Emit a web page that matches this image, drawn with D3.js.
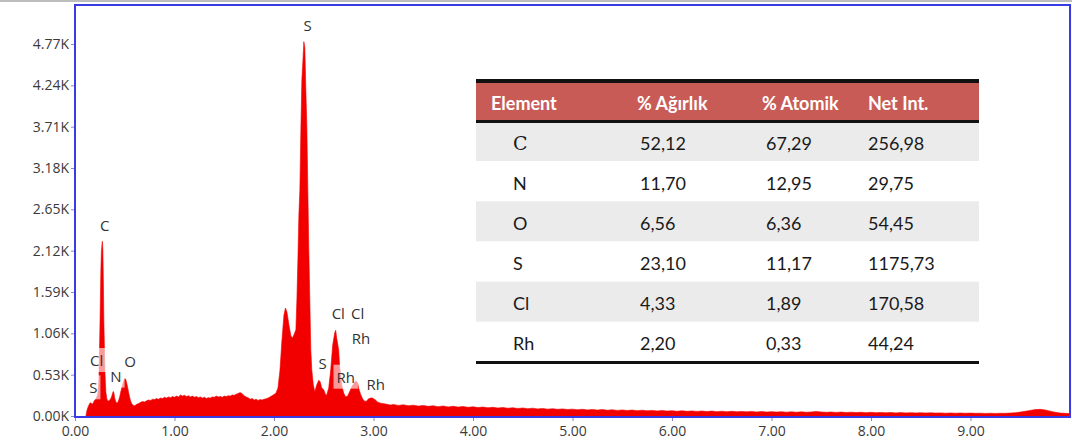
<!DOCTYPE html>
<html>
<head>
<meta charset="utf-8">
<script src="https://cdn.jsdelivr.net/npm/d3@7"></script>
<style>
  body { margin: 0; background: #fff; }
  svg { display: block; }
</style>
</head>
<body>
<svg id="chart" width="1072" height="448"></svg>
<script>
// EDS spectrum: energy (keV) and counts
const spectrumKeV = [
  0.11,0.115,0.12,0.13,0.14,0.15,0.16,0.17,0.18,0.19,0.20,0.21,0.22,0.23,0.24,0.25,0.26,0.265,0.27,0.275,
  0.28,0.285,0.29,0.30,0.31,0.32,0.33,0.34,0.35,0.36,0.37,0.38,0.385,0.39,0.40,0.41,0.42,0.43,0.44,0.45,
  0.46,0.47,0.48,0.49,0.50,0.51,0.52,0.53,0.54,0.55,0.56,0.57,0.58,0.59,0.60,
  0.62,0.64,0.66,0.68,0.70,0.72,0.74,0.76,0.78,0.80,0.82,0.84,0.86,0.88,0.90,0.92,0.94,0.96,0.98,1.00,
  1.02,1.04,1.06,1.08,1.10,1.12,1.14,1.16,1.18,1.20,1.22,1.24,1.26,1.28,1.30,1.32,1.34,1.36,1.38,1.40,
  1.42,1.44,1.46,1.48,1.50,1.52,1.54,1.56,1.58,1.60,1.62,1.64,1.66,1.68,1.70,1.72,1.74,1.76,1.78,1.80,
  1.82,1.84,1.86,1.88,1.90,1.92,1.94,1.96,1.98,2.00,
  2.02,2.04,2.06,2.08,2.10,2.115,2.13,2.15,2.17,2.185,2.20,2.22,2.23,2.24,2.25,2.26,2.27,2.28,2.29,2.30,
  2.31,2.32,2.33,2.34,2.35,2.36,2.37,2.38,2.395,2.41,2.43,2.45,2.465,2.48,2.50,2.52,2.53,2.55,2.57,2.59,
  2.61,2.62,2.63,2.65,2.66,2.68,2.70,2.72,2.74,2.76,2.78,2.80,2.82,2.84,2.85,2.87,2.89,2.91,2.93,2.95,
  2.97,2.99,3.02,3.04,3.07,3.12,3.17,
  3.20,3.25,3.30,3.35,3.40,3.45,3.50,3.55,3.60,3.65,3.70,3.75,3.80,3.85,3.90,3.95,
  4.00,4.05,4.10,4.15,4.20,4.25,4.30,4.35,4.40,4.45,4.50,4.55,4.60,4.65,4.70,4.75,4.80,4.85,4.90,4.95,
  5.00,5.05,5.10,5.15,5.20,5.25,5.30,5.35,5.40,5.45,5.50,5.55,5.60,5.65,5.70,5.75,5.80,5.85,5.90,5.95,
  6.00,6.05,6.10,6.15,6.20,6.25,6.30,6.35,6.40,6.45,6.50,6.55,6.60,6.65,6.70,6.75,6.80,6.85,6.90,6.95,
  7.00,7.05,7.10,7.15,7.20,7.25,7.30,7.35,7.40,7.45,7.50,7.55,7.60,7.65,7.70,7.75,7.80,7.85,7.90,7.95,
  8.00,8.05,8.10,8.15,8.20,8.25,8.30,8.35,8.40,8.45,8.50,8.55,8.60,8.65,8.70,8.75,8.80,8.85,8.90,8.95,
  9.00,9.05,9.10,9.15,9.20,9.25,9.30,9.35,9.40,9.45,9.50,9.55,9.60,9.65,9.70,9.75,9.80,9.85,9.90,9.95,10.00
];
const spectrumCounts = [
  0,40,70,110,140,165,170,150,160,185,205,220,245,290,460,1100,1870,2100,2190,2240,
  2130,1750,1230,590,310,220,190,195,205,225,255,300,315,300,225,185,165,175,205,250,
  310,360,410,450,480,470,420,360,295,235,190,160,140,135,130,
  150,160,175,185,180,195,205,200,215,210,225,215,230,225,240,230,245,235,250,240,
  255,245,270,255,265,250,260,245,255,240,250,235,245,230,240,225,235,230,245,240,
  255,245,250,240,255,250,260,255,270,265,280,290,300,285,260,245,235,215,225,205,
  215,200,210,205,215,220,230,245,260,275,
  295,360,590,975,1295,1385,1335,1170,1025,1000,1040,1105,1490,2000,2580,2900,3670,4310,4540,4800,
  4720,4180,3730,2900,2130,1490,845,590,400,310,400,460,435,360,335,270,270,360,590,910,
  1065,1100,1000,845,630,400,295,245,255,310,370,410,450,425,360,280,220,190,190,220,
  230,230,205,180,165,155,140,
  148,136,144,131,139,127,135,124,131,120,128,117,125,114,122,111,
  118,108,115,105,112,102,109,99,106,96,103,94,100,91,97,88,94,85,91,83,
  88,80,86,78,84,76,82,74,80,72,78,70,76,68,74,66,72,65,70,63,
  68,61,67,60,65,59,64,57,63,56,61,55,60,54,59,53,58,52,57,51,
  56,50,55,49,54,48,53,48,52,58,51,47,51,46,50,45,49,44,48,43,
  47,42,46,41,45,40,44,40,43,39,42,38,41,37,40,36,39,36,38,35,
  37,34,36,33,35,33,35,34,38,42,50,60,72,82,85,78,62,48,38,34,32
];

// Axis ticks
const yTickValues = [0, 530, 1060, 1590, 2120, 2650, 3180, 3710, 4240, 4770];
const xTickValues = [0, 1, 2, 3, 4, 5, 6, 7, 8, 9];

// Peak identification labels (anchored at energy / counts)
const peakText   = ["S", "C", "Cl", "S", "N", "O", "Cl", "Cl", "Rh", "S", "Rh", "Rh"];
const peakKeV    = [2.339, 0.30, 0.218, 0.184, 0.412, 0.553, 2.646, 2.841, 2.874, 2.489, 2.721, 3.022];
const peakCounts = [5017, 2450, 718, 368, 518, 710, 1318, 1321, 1005, 684, 504, 411];

// Quantification table
const tableHeaders = ["Element", "% Ağırlık", "% Atomik", "Net Int."];
const elements   = ["C", "N", "O", "S", "Cl", "Rh"];
const weightPct  = [52.12, 11.70, 6.56, 23.10, 4.33, 2.20];
const atomicPct  = [67.29, 12.95, 6.36, 11.17, 1.89, 0.33];
const netIntensity = [256.98, 29.75, 54.45, 1175.73, 170.58, 44.24];

const svg = d3.select("#chart");
const W = 1072, H = 448;
const plot = { left: 75, top: 5, right: 1070, bottom: 417 };

// thin grey strip at the very top
svg.append("rect").attr("x", 0).attr("y", 0).attr("width", W).attr("height", 2).attr("fill", "#bdbdbd");

const x = d3.scaleLinear().domain([0, 10]).range([plot.left, plot.right]);
const y = d3.scaleLinear().domain([0, 5270]).range([416, plot.top]);

const spectrum = spectrumKeV.map((e, i) => ({ e, c: spectrumCounts[i] }));

const area = d3.area()
  .x(d => x(d.e))
  .y0(y(0))
  .y1(d => y(d.c));

svg.append("path")
  .datum(spectrum)
  .attr("d", area)
  .attr("fill", "#f20000")
  .attr("stroke", "#f20000")
  .attr("stroke-width", 0.6);

// Frame
const frameColor = "#3b3be6";
svg.append("rect")
  .attr("x", plot.left).attr("y", plot.top)
  .attr("width", plot.right - plot.left).attr("height", plot.bottom - plot.top)
  .attr("fill", "none").attr("stroke", frameColor).attr("stroke-width", 2);

const fmtK = v => (v / 1000).toFixed(2) + "K";

const yAxis = svg.append("g")
  .attr("transform", `translate(${plot.left - 1},0)`)
  .call(d3.axisLeft(y).tickValues(yTickValues).tickFormat(fmtK).tickSize(3).tickPadding(2));
const xAxis = svg.append("g")
  .attr("transform", `translate(0,${plot.bottom + 1})`)
  .call(d3.axisBottom(x).tickValues(xTickValues).tickFormat(d3.format(".2f")).tickSize(3).tickPadding(5));

[yAxis, xAxis].forEach(g => {
  g.select(".domain").remove();
  g.selectAll(".tick line").attr("stroke", "#8888cc");
  g.selectAll(".tick text")
    .attr("fill", "#3a3a3a")
    .style("font-family", "'Open Sans', 'DejaVu Sans', sans-serif")
    .style("font-size", "14px");
});

// Peak labels with translucent backgrounds
const labels = svg.append("g");
peakText.forEach((t, i) => {
  const cx = x(peakKeV[i]), cy = y(peakCounts[i]);
  const g = labels.append("g");
  const bg = g.append("rect").attr("fill", "#ffffff").attr("fill-opacity", 0.6);
  const txt = g.append("text")
    .attr("x", cx).attr("y", cy)
    .attr("text-anchor", "middle")
    .attr("dominant-baseline", "central")
    .attr("fill", "#333")
    .style("font-family", "'Open Sans', 'DejaVu Sans', sans-serif")
    .style("font-size", "15px")
    .text(t);
  const bb = txt.node().getBBox();
  bg.attr("x", bb.x - 3).attr("y", cy - 12).attr("width", bb.width + 6).attr("height", 24);
});

// Table
const table = svg.append("g");
const tLeft = 476, tRight = 979;
const headerTop = 83, headerBottom = 121;
const rowY = d3.scaleBand().domain(d3.range(elements.length)).range([121, 362]).paddingInner(0);
const colX = [513, 640, 766, 868];
const headerX = [491, 637, 762, 868];
const fmtNum = v => d3.format(".2f")(v).replace(".", ",");

// row shading
table.selectAll("rect.row")
  .data(elements)
  .join("rect")
  .attr("class", "row")
  .attr("x", tLeft).attr("width", tRight - tLeft)
  .attr("y", (d, i) => rowY(i)).attr("height", rowY.bandwidth())
  .attr("fill", (d, i) => i % 2 === 0 ? "#ebebeb" : "#ffffff");

// header band
table.append("rect")
  .attr("x", tLeft).attr("y", headerTop)
  .attr("width", tRight - tLeft).attr("height", headerBottom - headerTop)
  .attr("fill", "#c95b57");

// rules
table.append("rect").attr("x", tLeft).attr("y", 79).attr("width", tRight - tLeft).attr("height", 4).attr("fill", "#111");
table.append("rect").attr("x", tLeft).attr("y", 120).attr("width", tRight - tLeft).attr("height", 3).attr("fill", "#111");
table.append("rect").attr("x", tLeft).attr("y", 361).attr("width", tRight - tLeft).attr("height", 3).attr("fill", "#111");

table.selectAll("text.head")
  .data(tableHeaders)
  .join("text")
  .attr("class", "head")
  .attr("x", (d, i) => headerX[i])
  .attr("y", (headerTop + headerBottom) / 2 + 1)
  .attr("dominant-baseline", "central")
  .attr("fill", "#ffffff")
  .style("font-family", "Lato, 'Open Sans', sans-serif")
  .style("font-weight", "bold")
  .style("font-size", "18px")
  .text(d => d);

const columns = [elements, weightPct.map(fmtNum), atomicPct.map(fmtNum), netIntensity.map(fmtNum)];
columns.forEach((col, c) => {
  table.selectAll(`text.c${c}`)
    .data(col)
    .join("text")
    .attr("class", `c${c}`)
    .attr("x", colX[c])
    .attr("y", (d, i) => rowY(i) + rowY.bandwidth() / 2 + 1.5)
    .attr("dominant-baseline", "central")
    .attr("fill", "#1a1a1a")
    .style("font-family", (d, i) => (c === 0 && i === 0) ? "'DejaVu Serif', serif" : "Lato, 'Open Sans', sans-serif")
    .style("font-size", (d, i) => (c === 0 && i === 0) ? "19px" : "18px")
    .text(d => d);
});
</script>
</body>
</html>
